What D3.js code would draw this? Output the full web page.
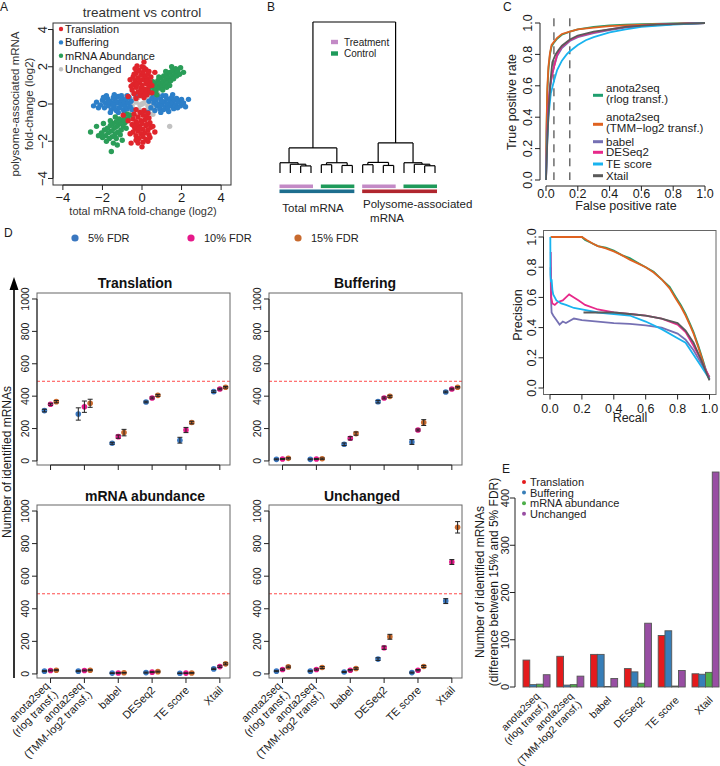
<!DOCTYPE html>
<html><head><meta charset="utf-8">
<script src="https://cdn.jsdelivr.net/npm/d3@7"></script>
<style>body{margin:0;background:#fff} svg{font-family:"Liberation Sans",Arial,sans-serif}</style>
</head><body><svg id="c" width="720" height="766"></svg>
<script>
// ---------------- DATA ----------------
// Panel A: scatter (total mRNA log2FC, polysome log2FC)
const scatterUnchanged = [[0,0],[-0.3,0.1],[0.3,-0.1],[-0.15,-0.3],[0.15,0.3],[-0.5,-0.1],[0.5,0.1],[-0.2,0.35],[0.2,-0.35],[0.1,0.05],[-0.1,-0.05],[-0.4,0.25],[0.4,-0.25],[-0.6,0.05],[0.6,-0.05],[0.35,0.3],[-0.35,-0.3],[0.7,0.4],[-0.7,-0.4],[0,0.45],[0,-0.45],[-1.0,0.45],[0.8,0.55],[-0.2,0.8],[0.2,-0.8],[1.4,-1.2],[0.45,0.55],[-0.55,-0.45],[-0.45,0.6],[0.55,-0.55]];
const scatterBuffering = [[-2.3,0.1],[-2.1,-0.05],[-2.0,0.2],[-1.9,-0.2],[-1.85,0.05],[-1.75,0.3],[-1.7,-0.1],[-1.6,0.15],[-1.55,-0.3],[-1.5,0],[-1.45,0.35],[-1.4,-0.15],[-1.35,0.2],[-1.3,-0.35],[-1.25,0.05],[-1.2,0.4],[-1.15,-0.2],[-1.1,0.15],[-1.05,-0.05],[-1.0,0.3],[-0.95,-0.3],[-0.9,0.1],[-0.85,-0.1],[-0.8,0.25],[-0.75,-0.25],[-0.7,0.05],[-0.65,0.35],[-0.6,-0.15],[-0.55,0.15],[-0.5,-0.3],[-1.6,-0.45],[-1.2,-0.45],[-1.8,0.45],[-1.4,0.5],[-2.2,-0.2],[-1.95,0.35],[-1.05,0.45],[-0.75,0.45],[-1.65,0.1],[-1.3,0.1],[-0.9,-0.45],[-1.45,-0.05],[-2.45,-0.1],
[0.35,0.15],[0.45,-0.2],[0.5,0.3],[0.6,0.05],[0.65,-0.35],[0.7,0.2],[0.75,-0.1],[0.8,0.4],[0.85,0],[0.9,-0.25],[0.95,0.25],[1.0,-0.05],[1.05,0.45],[1.1,-0.3],[1.15,0.1],[1.2,-0.15],[1.25,0.3],[1.3,0],[1.35,-0.4],[1.4,0.2],[1.45,-0.1],[1.5,0.35],[1.55,0.05],[1.6,-0.25],[1.65,0.2],[1.7,-0.05],[1.75,0.3],[1.8,-0.2],[1.85,0.1],[1.95,-0.1],[2.0,0.25],[2.1,0.05],[2.2,-0.15],[2.35,0.25],[1.2,0.45],[0.95,-0.45],[1.55,0.5],[0.6,0.45],[1.0,0.15],[1.3,-0.25],[-0.3,0.4],[0.3,-0.45]];
const scatterAbundance = [[0.35,0.75],[0.45,0.6],[0.5,0.95],[0.6,0.8],[0.65,1.1],[0.7,0.7],[0.75,0.95],[0.8,1.25],[0.85,0.85],[0.9,1.1],[0.95,1.4],[1.0,0.95],[1.05,1.2],[1.1,1.5],[1.15,1.0],[1.2,1.3],[1.25,1.6],[1.3,1.15],[1.35,1.4],[1.4,1.7],[1.45,1.25],[1.5,1.5],[1.55,1.8],[1.6,1.35],[1.65,1.6],[1.7,1.9],[1.75,1.5],[1.8,1.75],[1.9,1.6],[1.05,0.75],[0.85,1.45],[1.25,0.9],[1.5,2.0],[0.55,1.2],[1.95,1.95],[1.2,1.75],[0.75,0.5],[1.4,1.0],[2.1,1.7],
[-0.6,-0.6],[-0.7,-0.8],[-0.75,-0.55],[-0.85,-1.0],[-0.9,-0.75],[-0.95,-1.2],[-1.0,-0.9],[-1.05,-1.4],[-1.1,-1.05],[-1.15,-0.8],[-1.2,-1.5],[-1.25,-1.2],[-1.3,-0.95],[-1.35,-1.6],[-1.4,-1.3],[-1.45,-1.05],[-1.5,-1.75],[-1.55,-1.45],[-1.6,-1.15],[-1.65,-1.85],[-1.7,-1.55],[-1.75,-1.3],[-1.8,-2.0],[-1.85,-1.7],[-1.9,-1.4],[-2.0,-1.8],[-2.05,-1.55],[-2.2,-1.7],[-1.3,-1.85],[-1.6,-0.9],[-1.1,-1.65],[-1.45,-2.1],[-2.3,-1.2],[-1.95,-1.05],[-0.8,-1.3],[-1.25,-2.2],[-1.55,-2.55],[-2.6,-1.5],[-1.0,-1.95],[-1.35,-0.7]];
const scatterTranslation = [[-0.3,0.3],[0.1,0.35],[-0.1,0.45],[0.25,0.5],[-0.4,0.55],[0.05,0.6],[-0.2,0.65],[0.3,0.7],[-0.5,0.75],[0.15,0.8],[-0.05,0.85],[-0.3,0.9],[0.35,0.95],[0,1.0],[-0.45,1.05],[0.2,1.1],[-0.15,1.15],[0.4,1.2],[-0.35,1.25],[0.05,1.3],[0.25,1.35],[-0.2,1.4],[-0.45,1.45],[0.15,1.5],[-0.05,1.55],[0.3,1.6],[-0.3,1.65],[0.05,1.7],[-0.15,1.8],[0.2,1.85],[-0.35,1.9],[0,2.0],[0.1,2.25],[-0.6,1.3],[0.5,1.0],[-0.25,1.05],[0.15,0.55],[-0.1,1.25],[0.25,1.25],[-0.4,1.6],[0.35,1.75],[0.1,1.95],[-0.25,2.05],[-0.05,0.7],[0.45,1.45],[-0.55,0.95],[0.5,0.6],[-0.7,0.4],[0.65,1.7],
[-0.3,-0.3],[0.1,-0.35],[-0.1,-0.45],[0.3,-0.5],[-0.4,-0.55],[0.05,-0.6],[-0.2,-0.7],[0.35,-0.75],[-0.45,-0.8],[0.15,-0.85],[-0.05,-0.9],[-0.3,-0.95],[0.4,-1.0],[0,-1.05],[-0.5,-1.1],[0.2,-1.15],[-0.15,-1.2],[0.45,-1.25],[-0.35,-1.3],[0.05,-1.35],[0.3,-1.4],[-0.2,-1.45],[-0.45,-1.5],[0.15,-1.55],[-0.05,-1.6],[0.35,-1.65],[-0.3,-1.7],[0.05,-1.75],[-0.15,-1.85],[0.2,-1.9],[-0.3,-1.95],[0.05,-2.05],[0,-2.3],[-0.6,-1.6],[0.55,-1.2],[-0.25,-1.05],[0.2,-0.65],[-0.1,-1.3],[0.25,-1.1],[-0.4,-1.2],[0.4,-1.8],[-0.2,-2.1],[0.3,-2.0],[-0.7,-0.9],[-0.95,-0.6],[-0.55,-2.1],[0.65,-1.5]];
const scatterLegend = ["Translation","Buffering","mRNA Abundance","Unchanged"];
const ticksA = [-4,-2,0,2,4];

// Panel B: dendrogram (merge heights, relative) and sample annotation
const dendrogram = {h:1, children:[
  {h:0.166, children:[
    {h:0.068, children:[{leaf:0},{h:0.058, children:[{leaf:1},{h:0.047, children:[{leaf:2},{leaf:3}]}]}]},
    {h:0.068, children:[{h:0.055, children:[{leaf:4},{leaf:5}]},{h:0.05, children:[{leaf:6},{leaf:7}]}]}]},
  {h:0.199, children:[
    {h:0.07, children:[{h:0.055, children:[{leaf:8},{leaf:9}]},{h:0.05, children:[{leaf:10},{leaf:11}]}]},
    {h:0.068, children:[{leaf:12},{h:0.058, children:[{leaf:13},{h:0.048, children:[{leaf:14},{leaf:15}]}]}]}]}]};
const sampleCondition = ["Treatment","Treatment","Treatment","Treatment","Control","Control","Control","Control","Treatment","Treatment","Treatment","Treatment","Control","Control","Control","Control"];
const sampleFraction = ["Total","Total","Total","Total","Total","Total","Total","Total","Polysome","Polysome","Polysome","Polysome","Polysome","Polysome","Polysome","Polysome"];
const conditionLegend = ["Treatment","Control"];

// Panel C: ROC [fpr, tpr] and PR [recall, precision]
const methodLegend = [["anota2seq","(rlog transf.)"],["anota2seq","(TMM\u2212log2 transf.)"],["babel"],["DESeq2"],["TE score"],["Xtail"]];
const rocAnotaRlog = [[0,0],[0.003,0.3],[0.008,0.55],[0.015,0.7],[0.025,0.8],[0.035,0.85],[0.05,0.875],[0.07,0.9],[0.1,0.925],[0.15,0.945],[0.2,0.96],[0.3,0.975],[0.4,0.985],[0.5,0.99],[0.6,0.993],[0.8,0.997],[1,1]];
const rocAnotaTMM = [[0,0],[0.003,0.32],[0.008,0.58],[0.015,0.72],[0.025,0.81],[0.035,0.86],[0.05,0.88],[0.07,0.905],[0.1,0.93],[0.15,0.945],[0.2,0.96],[0.3,0.97],[0.4,0.98],[0.5,0.985],[0.7,0.993],[1,1]];
const rocBabel = [[0,0],[0.005,0.2],[0.015,0.45],[0.025,0.58],[0.035,0.65],[0.05,0.72],[0.07,0.79],[0.1,0.84],[0.15,0.885],[0.2,0.91],[0.3,0.935],[0.4,0.955],[0.5,0.97],[0.6,0.98],[0.8,0.993],[1,1]];
const rocDESeq2 = [[0,0],[0.005,0.22],[0.015,0.47],[0.025,0.6],[0.04,0.68],[0.05,0.72],[0.07,0.8],[0.1,0.85],[0.15,0.89],[0.2,0.915],[0.3,0.94],[0.4,0.96],[0.5,0.975],[0.7,0.99],[1,1]];
const rocTEscore = [[0,0],[0.005,0.18],[0.015,0.4],[0.03,0.55],[0.05,0.63],[0.07,0.7],[0.1,0.76],[0.13,0.8],[0.15,0.82],[0.2,0.86],[0.25,0.89],[0.3,0.91],[0.4,0.94],[0.5,0.96],[0.6,0.975],[0.8,0.99],[1,1]];
const rocXtail = [[0,0],[0.01,0.3],[0.02,0.5],[0.03,0.65],[0.04,0.75],[0.06,0.8],[0.08,0.83],[0.1,0.855],[0.15,0.895],[0.2,0.92],[0.3,0.945],[0.4,0.96],[0.5,0.975],[0.7,0.99],[1,1]];
const prAnotaRlog = [[0.005,1],[0.2,1],[0.22,0.98],[0.25,0.965],[0.3,0.94],[0.35,0.93],[0.4,0.91],[0.45,0.88],[0.5,0.86],[0.55,0.83],[0.6,0.8],[0.65,0.77],[0.7,0.72],[0.75,0.67],[0.79,0.6],[0.82,0.55],[0.85,0.49],[0.88,0.42],[0.9,0.37],[0.93,0.28],[0.96,0.18],[0.98,0.11],[1,0.07]];
const prAnotaTMM = [[0.005,1],[0.2,1],[0.23,0.98],[0.27,0.955],[0.3,0.94],[0.35,0.925],[0.4,0.905],[0.45,0.88],[0.5,0.85],[0.55,0.825],[0.6,0.8],[0.65,0.765],[0.7,0.72],[0.75,0.66],[0.79,0.59],[0.82,0.54],[0.85,0.48],[0.88,0.41],[0.9,0.36],[0.93,0.27],[0.96,0.17],[0.98,0.1],[1,0.06]];
const prBabel = [[0.004,0.8],[0.006,0.6],[0.01,0.5],[0.02,0.48],[0.04,0.45],[0.06,0.42],[0.08,0.44],[0.1,0.43],[0.15,0.46],[0.2,0.45],[0.3,0.44],[0.4,0.43],[0.5,0.425],[0.6,0.415],[0.7,0.4],[0.8,0.36],[0.85,0.32],[0.9,0.25],[0.95,0.16],[1,0.06]];
const prDESeq2 = [[0.005,0.9],[0.008,0.6],[0.015,0.56],[0.03,0.55],[0.05,0.57],[0.08,0.58],[0.1,0.6],[0.12,0.62],[0.15,0.6],[0.18,0.58],[0.22,0.55],[0.3,0.52],[0.4,0.5],[0.5,0.49],[0.6,0.48],[0.7,0.46],[0.8,0.42],[0.85,0.37],[0.9,0.28],[0.95,0.18],[1,0.07]];
const prTEscore = [[0.002,1],[0.003,0.75],[0.006,0.7],[0.01,0.72],[0.015,0.65],[0.02,0.62],[0.04,0.58],[0.07,0.56],[0.1,0.55],[0.15,0.53],[0.2,0.52],[0.3,0.5],[0.4,0.49],[0.5,0.48],[0.6,0.44],[0.7,0.39],[0.8,0.33],[0.85,0.3],[0.9,0.22],[0.95,0.14],[1,0.06]];
const prXtail = [[0.21,0.5],[0.3,0.5],[0.4,0.5],[0.5,0.49],[0.6,0.48],[0.7,0.46],[0.8,0.43],[0.85,0.38],[0.9,0.3],[0.95,0.18],[1,0.05]];
const rateTicks = [0,0.2,0.4,0.6,0.8,1.0];
const fprCutoffs = [0.05,0.15];

// Panel D: number of identified mRNAs, [5%,10%,15% FDR] per method (mean and error)
const methodLabels = [["anota2seq","(rlog transf.)"],["anota2seq","(TMM-log2 transf.)"],["babel"],["DESeq2"],["TE score"],["Xtail"]];
const fdrLevels = ["5% FDR","10% FDR","15% FDR"];
const translationMean = [[311,350,366],[290,335,356],[109,150,175],[364,389,405],[128,191,237],[428,444,455]];
const translationErr = [[8,6,7],[38,35,25],[6,10,20],[5,6,6],[18,16,8],[5,5,5]];
const bufferingMean = [[10,12,16],[10,12,14],[103,140,169],[366,389,399],[117,191,237],[426,444,455]];
const bufferingErr = [[3,3,4],[3,3,4],[8,10,10],[8,6,6],[15,6,18],[5,5,4]];
const abundanceMean = [[17,21,23],[17,21,23],[5,6,7],[8,11,14],[4,5,6],[31,45,62]];
const abundanceErr = [[3,3,3],[3,3,3],[2,2,2],[3,3,3],[2,2,2],[4,5,6]];
const unchangedMean = [[17,27,43],[17,27,39],[12,23,33],[91,161,228],[8,23,46],[447,687,900]];
const unchangedErr = [[3,4,5],[3,4,6],[3,4,5],[8,10,15],[3,4,6],[15,15,35]];
const trueCount = [492];
const ticksD = [0,200,400,600,800,1000];

// Panel E: difference between 15% and 5% FDR
const regulationLegend = ["Translation","Buffering","mRNA abundance","Unchanged"];
const diffTranslation = [57,65,69,39,109,28];
const diffBuffering = [5,4,69,32,119,27];
const diffAbundance = [6,5,1,8,2,31];
const diffUnchanged = [26,23,18,135,35,455];
const ticksE = [0,100,200,300,400];

// ---------------- DRAWING ----------------
const svg = d3.select("#c");
function txt(x, y, s, o = {}) {
  return svg.append("text")
    .attr("transform", `translate(${x},${y}) rotate(${o.rot || 0})`)
    .attr("text-anchor", o.anchor || "middle")
    .attr("font-size", o.size || 12)
    .attr("font-weight", o.weight || "normal")
    .attr("fill", o.fill || "#1a1a1a")
    .attr("dominant-baseline", o.base || "auto")
    .text(s);
}
function line(x1, y1, x2, y2, col = "#222", w = 1, dash = null) {
  const l = svg.append("line").attr("x1", x1).attr("y1", y1).attr("x2", x2).attr("y2", y2)
    .attr("stroke", col).attr("stroke-width", w);
  if (dash) l.attr("stroke-dasharray", dash);
  return l;
}
function rAxisBottom(scale, ticks, yPos, fmt, size, labelY) {
  line(scale(ticks[0]), yPos, scale(ticks[ticks.length - 1]), yPos);
  ticks.forEach(t => {
    line(scale(t), yPos, scale(t), yPos + 5);
    txt(scale(t), labelY, fmt(t), {size});
  });
}
function rAxisLeft(scale, ticks, xPos, fmt, size, labelX) {
  line(xPos, scale(ticks[0]), xPos, scale(ticks[ticks.length - 1]));
  ticks.forEach(t => {
    line(xPos - 5, scale(t), xPos, scale(t));
    txt(labelX, scale(t), fmt(t), {size, rot: -90});
  });
}
const minusFmt = d => (d < 0 ? "\u2212" + Math.abs(d) : String(d));
const f1 = d3.format(".1f");

// Panel labels
txt(0, 11, "A", {size: 12, anchor: "start"});
txt(267, 11, "B", {size: 12, anchor: "start"});
txt(503, 11, "C", {size: 12, anchor: "start"});
txt(4, 237, "D", {size: 12, anchor: "start"});
txt(502, 473, "E", {size: 12, anchor: "start"});

// ---- Panel A ----
const xA = d3.scaleLinear().domain([-4.5, 4.5]).range([53, 231]);
const yA = d3.scaleLinear().domain([-4.35, 4.35]).range([185, 23]);
const groupsA = [
  {pts: scatterUnchanged, col: "#c2c2c2"},
  {pts: scatterBuffering, col: "#2c7fc9"},
  {pts: scatterAbundance, col: "#2a9d58"},
  {pts: scatterTranslation, col: "#e0242b"}
];
groupsA.forEach(g => {
  svg.append("g").selectAll("circle").data(g.pts).join("circle")
    .attr("cx", d => xA(d[0])).attr("cy", d => yA(d[1])).attr("r", 2.7).attr("fill", g.col);
});
svg.append("rect").attr("x", 53).attr("y", 23).attr("width", 178).attr("height", 162)
  .attr("fill", "none").attr("stroke", "#333").attr("stroke-width", 1);
rAxisBottom(xA, ticksA, 185, minusFmt, 13, 202);
rAxisLeft(yA, ticksA, 53, minusFmt, 13, 46.5);
txt(142, 17, "treatment vs control", {size: 13.5, fill: "#333"});
txt(143, 215, "total mRNA fold-change (log2)", {size: 11, fill: "#333"});
txt(19, 104, "polysome-associated mRNA", {size: 11.5, rot: -90, fill: "#333"});
txt(33, 104, "fold-change (log2)", {size: 11.5, rot: -90, fill: "#333"});
const legColsA = ["#e0242b", "#2c7fc9", "#2a9d58", "#c2c2c2"];
scatterLegend.forEach((s, i) => {
  const yy = 29 + i * 13.4;
  svg.append("circle").attr("cx", 61).attr("cy", yy).attr("r", 2.2).attr("fill", legColsA[i]);
  txt(65, yy + 4, s, {size: 11, anchor: "start", fill: "#222"});
});

// ---- Panel B ----
const leafX = d3.scalePoint().domain(d3.range(16)).range([280, 435]);
const hB = d3.scaleLinear().domain([0, 1]).range([173, 22]);
function layout(n) {
  if (n.leaf !== undefined) { n.x = leafX(n.leaf); n.h = 0; return; }
  n.children.forEach(layout);
  n.x = d3.mean(n.children, c => c.x);
}
layout(dendrogram);
function drawTree(n) {
  if (!n.children) return;
  const [a, b] = n.children;
  line(a.x, hB(n.h), b.x, hB(n.h), "#000", 1.2);
  n.children.forEach(c => { line(c.x, hB(n.h), c.x, hB(c.h), "#000", 1.2); drawTree(c); });
}
drawTree(dendrogram);
const condCol = {Treatment: "#c38ac6", Control: "#1e9a5a"};
const fracCol = {Total: "#1d6e8e", Polysome: "#b0262e"};
function runs(arr) {
  const out = []; let s = 0;
  for (let i = 1; i <= arr.length; i++) {
    if (i === arr.length || arr[i] !== arr[s]) { out.push({v: arr[s], a: s, b: i - 1}); s = i; }
  }
  return out;
}
runs(sampleCondition).forEach(r => {
  svg.append("rect").attr("x", leafX(r.a) - 0.5).attr("y", 184.5).attr("width", leafX(r.b) - leafX(r.a) + 2.5)
    .attr("height", 3.6).attr("fill", condCol[r.v]);
});
runs(sampleFraction).forEach(r => {
  svg.append("rect").attr("x", leafX(r.a) - 0.5).attr("y", 189.5).attr("width", leafX(r.b) - leafX(r.a) + 2.5)
    .attr("height", 3.6).attr("fill", fracCol[r.v]);
});
txt(313, 212, "Total mRNA", {size: 11.5, fill: "#222"});
txt(363, 208, "Polysome-associated", {size: 11.5, anchor: "start", fill: "#222"});
txt(387, 222, "mRNA", {size: 11.5, fill: "#222"});
conditionLegend.forEach((s, i) => {
  const yy = 42 + i * 11.5;
  svg.append("rect").attr("x", 331).attr("y", yy - 2.2).attr("width", 7).attr("height", 4.4).attr("fill", condCol[s]);
  txt(344, yy + 3.5, s, {size: 10, anchor: "start", fill: "#222"});
});

// ---- Panel C ----
const methodCols = ["#1f9e6e", "#df6220", "#7570b3", "#e7298a", "#19b3ef", "#5a5a5a"];
const rocData = [rocAnotaRlog, rocAnotaTMM, rocBabel, rocDESeq2, rocTEscore, rocXtail];
const prData = [prAnotaRlog, prAnotaTMM, prBabel, prDESeq2, prTEscore, prXtail];
const xR = d3.scaleLinear().domain([0, 1]).range([546, 705]);
const yR = d3.scaleLinear().domain([0, 1]).range([180, 23]);
fprCutoffs.forEach(c => line(xR(c), yR(1.03), xR(c), yR(0), "#222", 1, "8,6"));
const lnR = d3.line().x(d => xR(d[0])).y(d => yR(d[1]));
rocData.forEach((d, i) => svg.append("path").attr("d", lnR(d)).attr("fill", "none").attr("stroke", methodCols[i]).attr("stroke-width", 1.8));
rAxisBottom(xR, rateTicks, 186, f1, 12.5, 197.5);
rAxisLeft(yR, rateTicks, 540, f1, 12.5, 532);
txt(626, 209.5, "False positive rate", {size: 12.5, fill: "#222"});
txt(516, 102, "True positive rate", {size: 12.5, rot: -90, fill: "#222"});
const legY = [[88.3, 99.3], [117.3, 128.3], [141.7], [152.3], [164], [175.7]];
methodLegend.forEach((lab, i) => {
  const ys = legY[i];
  const cy = d3.mean(ys) + (ys.length > 1 ? 1.5 : 0);
  line(593, cy, 603, cy, methodCols[i], 3);
  lab.forEach((s, k) => txt(606, ys[k] + 4, s, {size: 11.5, anchor: "start", fill: "#222"}));
});
const xP = d3.scaleLinear().domain([0, 1]).range([550, 709.5]);
const yP = d3.scaleLinear().domain([0, 1]).range([388, 237]);
const lnP = d3.line().x(d => xP(d[0])).y(d => yP(d[1]));
prData.forEach((d, i) => svg.append("path").attr("d", lnP(d)).attr("fill", "none").attr("stroke", methodCols[i]).attr("stroke-width", 1.8));
svg.append("rect").attr("x", 543.5).attr("y", 230.5).attr("width", 172.5).attr("height", 164)
  .attr("fill", "none").attr("stroke", "#666").attr("stroke-width", 1);
rAxisBottom(xP, rateTicks, 394.5, f1, 12.5, 412.5);
rAxisLeft(yP, rateTicks, 543.5, f1, 12.5, 535.5);
txt(630, 422, "Recall", {size: 12.5, fill: "#222"});
txt(522, 315, "Precision", {size: 12.5, rot: -90, fill: "#222"});

// ---- Panel D ----
const fdrCols = ["#3a77c0", "#e6198a", "#c86a2e"];
const fdrOffset = [-0.18, 0, 0.17];
fdrLevels.forEach((s, i) => {
  const xs = [75, 191, 298][i];
  svg.append("circle").attr("cx", xs).attr("cy", 238).attr("r", 3.6).attr("fill", fdrCols[i]);
  txt(xs + 13, 242, s, {size: 11, anchor: "start", fill: "#222"});
});
function drawD(box, title, titleX, titleY, means, errs) {
  const x = d3.scaleLinear().domain([0.6, 6.3]).range([box.x0, box.x1]);
  const y = d3.scaleLinear().domain([-25, 1037]).range([box.y1, box.y0]);
  line(box.x0, y(trueCount[0]), box.x1, y(trueCount[0]), "#ff4a4a", 1, "3,2");
  means.forEach((m, i) => m.forEach((v, j) => {
    const cx = x(i + 1 + fdrOffset[j]);
    svg.append("circle").attr("cx", cx).attr("cy", y(v)).attr("r", 2.8).attr("fill", fdrCols[j]);
    const e = errs[i][j];
    line(cx, y(v - e), cx, y(v + e), "#222", 1);
    line(cx - 2.5, y(v - e), cx + 2.5, y(v - e), "#222", 1);
    line(cx - 2.5, y(v + e), cx + 2.5, y(v + e), "#222", 1);
  }));
  svg.append("rect").attr("x", box.x0).attr("y", box.y0).attr("width", box.x1 - box.x0).attr("height", box.y1 - box.y0)
    .attr("fill", "none").attr("stroke", "#666").attr("stroke-width", 1);
  rAxisLeft(y, ticksD, box.x0, String, 10.5, box.x0 - 8.5);
  d3.range(1, 7).forEach(k => line(x(k), box.y1, x(k), box.y1 + 5));
  line(x(1), box.y1, x(6), box.y1);
  txt(titleX, titleY, title, {size: 14, weight: "bold", fill: "#111"});
  return x;
}
const boxes = [
  {x0: 37, x1: 230, y0: 293, y1: 465},
  {x0: 269, x1: 462, y0: 293, y1: 465},
  {x0: 37, x1: 230, y0: 505, y1: 678},
  {x0: 269, x1: 462, y0: 505, y1: 678}
];
drawD(boxes[0], "Translation", 135, 288, translationMean, translationErr);
drawD(boxes[1], "Buffering", 365, 288, bufferingMean, bufferingErr);
const xD3 = drawD(boxes[2], "mRNA abundance", 145, 501, abundanceMean, abundanceErr);
const xD4 = drawD(boxes[3], "Unchanged", 362, 501, unchangedMean, unchangedErr);
function rotLabels(xs, yAnchor, size) {
  methodLabels.forEach((lab, i) => {
    const g = svg.append("g").attr("transform", `translate(${xs[i]},${yAnchor}) rotate(-45)`);
    lab.forEach((s, k) => {
      const dy = lab.length === 1 ? 0 : (k === 0 ? -0.55 : 0.55);
      g.append("text").attr("x", 0).attr("y", 0).attr("dy", dy + "em").attr("text-anchor", "end")
        .attr("dominant-baseline", "central").attr("font-size", size).attr("fill", "#1a1a1a").text(s);
    });
  });
}
rotLabels(d3.range(1, 7).map(k => xD3(k) + 1), 688, 11);
rotLabels(d3.range(1, 7).map(k => xD4(k) + 1), 688, 11);
line(14, 678, 14, 288, "#000", 1.6);
svg.append("path").attr("d", "M14,277 L9.5,290 L18.5,290 Z").attr("fill", "#000");
txt(11, 462, "Number of identified mRNAs", {size: 12, rot: -90, fill: "#1a1a1a"});

// ---- Panel E ----
const yE = d3.scaleLinear().domain([0, 400]).range([687, 498]);
const diffSeries = [diffTranslation, diffBuffering, diffAbundance, diffUnchanged];
const regCols = ["#e41a1c", "#377eb8", "#4daf4a", "#984ea3"];
const barW = 6.76;
const groupX = d3.scaleLinear().domain([0, 1]).range([523, 523 + 5 * barW]);
diffSeries.forEach((ser, s) => {
  svg.append("g").selectAll("rect").data(ser).join("rect")
    .attr("x", (d, i) => groupX(i) + s * barW).attr("y", d => yE(d))
    .attr("width", barW).attr("height", d => yE(0) - yE(d))
    .attr("fill", regCols[s]).attr("stroke", "#555").attr("stroke-width", 0.9);
});
rAxisLeft(yE, ticksE, 515, String, 11, 509);
txt(484, 582, "Number of identified mRNAs", {size: 12, rot: -90, fill: "#1a1a1a"});
txt(498, 582, "(difference between 15% and 5% FDR)", {size: 12, rot: -90, fill: "#1a1a1a"});
regulationLegend.forEach((s, i) => {
  const yy = 482 + i * 10.6;
  svg.append("circle").attr("cx", 524).attr("cy", yy).attr("r", 2).attr("fill", regCols[i]);
  txt(530, yy + 4, s, {size: 11, anchor: "start", fill: "#222"});
});
methodLabels.forEach((lab, i) => {
  const cx = groupX(i) + 2 * barW + 5;
  const g = svg.append("g").attr("transform", `translate(${cx},698) rotate(-45)`);
  lab.forEach((s, k) => {
    const dy = lab.length === 1 ? 0 : (k === 0 ? -0.55 : 0.55);
    g.append("text").attr("dy", dy + "em").attr("text-anchor", "end").attr("dominant-baseline", "central")
      .attr("font-size", 10.5).attr("fill", "#1a1a1a").text(s);
  });
});
</script></body></html>
